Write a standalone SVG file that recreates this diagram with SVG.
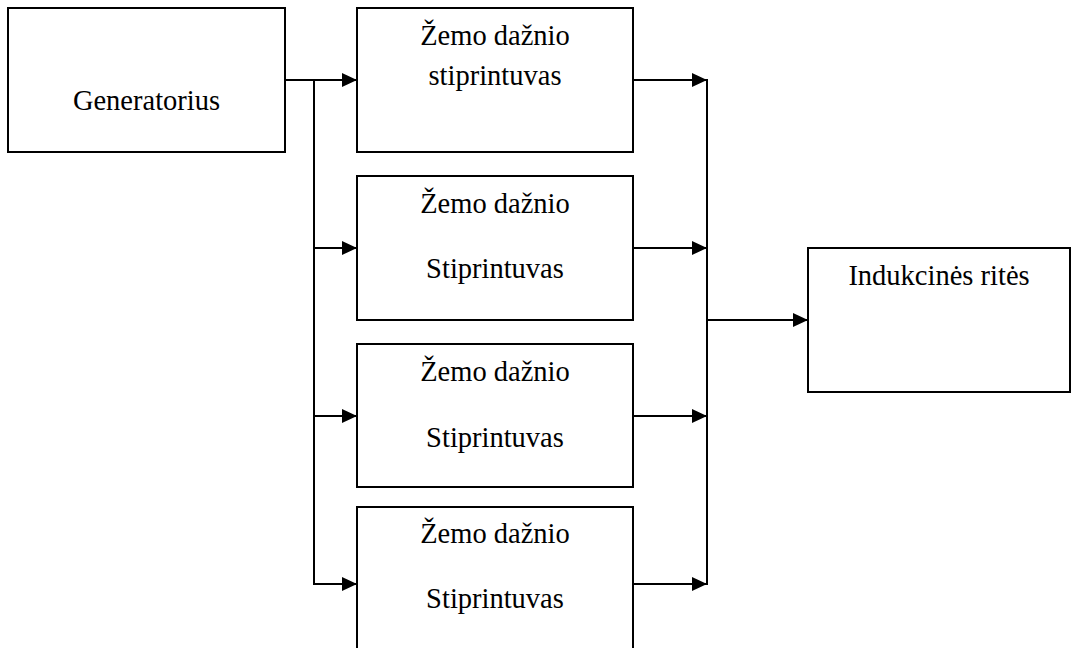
<svg xmlns="http://www.w3.org/2000/svg" width="1074" height="648" viewBox="0 0 1074 648">
  <defs>
    <marker id="arrow" viewBox="0 0 15 14" refX="15" refY="7" markerWidth="15" markerHeight="14" markerUnits="userSpaceOnUse" orient="auto">
      <path d="M0,0 L15,7 L0,14 Z" fill="#000"/>
    </marker>
    <style>
      .box { fill: #fff; stroke: #000; stroke-width: 2; }
      .lbl { font-family: "Liberation Serif", "Times New Roman", serif; font-size: 28.5px; fill: #000; text-anchor: middle; }
      .wire { fill: none; stroke: #000; stroke-width: 2; }
      .arr { fill: none; stroke: #000; stroke-width: 2; marker-end: url(#arrow); }
    </style>
  </defs>
  <rect width="1074" height="648" fill="#fff"/>

  <!-- signal wiring -->
  <g id="connectors">
    <!-- generator output bus -->
    <path class="arr" d="M285,80 H357"/>
    <path class="wire" d="M314,80 V585"/>
    <path class="arr" d="M313,248 H357"/>
    <path class="arr" d="M313,416 H357"/>
    <path class="arr" d="M313,584 H357"/>
    <!-- amplifier outputs to collector -->
    <path class="arr" d="M633,80 H707"/>
    <path class="arr" d="M633,248 H707"/>
    <path class="arr" d="M633,416 H707"/>
    <path class="arr" d="M633,584 H707"/>
    <path class="wire" d="M707,79 V585"/>
    <!-- collector to coils -->
    <path class="arr" d="M706,320 H808"/>
  </g>

  <g id="generator">
    <rect class="box" x="8" y="8" width="277" height="144"/>
    <text class="lbl" x="146.5" y="110">Generatorius</text>
  </g>

  <g id="amp1">
    <rect class="box" x="357" y="8" width="276" height="144"/>
    <text class="lbl" x="495" y="45">Žemo dažnio</text>
    <text class="lbl" x="495" y="85">stiprintuvas</text>
  </g>

  <g id="amp2">
    <rect class="box" x="357" y="176" width="276" height="144"/>
    <text class="lbl" x="495" y="213">Žemo dažnio</text>
    <text class="lbl" x="495" y="278">Stiprintuvas</text>
  </g>

  <g id="amp3">
    <rect class="box" x="357" y="344" width="276" height="143"/>
    <text class="lbl" x="495" y="381">Žemo dažnio</text>
    <text class="lbl" x="495" y="447">Stiprintuvas</text>
  </g>

  <g id="amp4">
    <rect class="box" x="357" y="507" width="276" height="144"/>
    <text class="lbl" x="495" y="543">Žemo dažnio</text>
    <text class="lbl" x="495" y="608">Stiprintuvas</text>
  </g>

  <g id="coils">
    <rect class="box" x="808" y="248" width="262" height="144"/>
    <text class="lbl" x="939" y="285">Indukcinės ritės</text>
  </g>
</svg>
